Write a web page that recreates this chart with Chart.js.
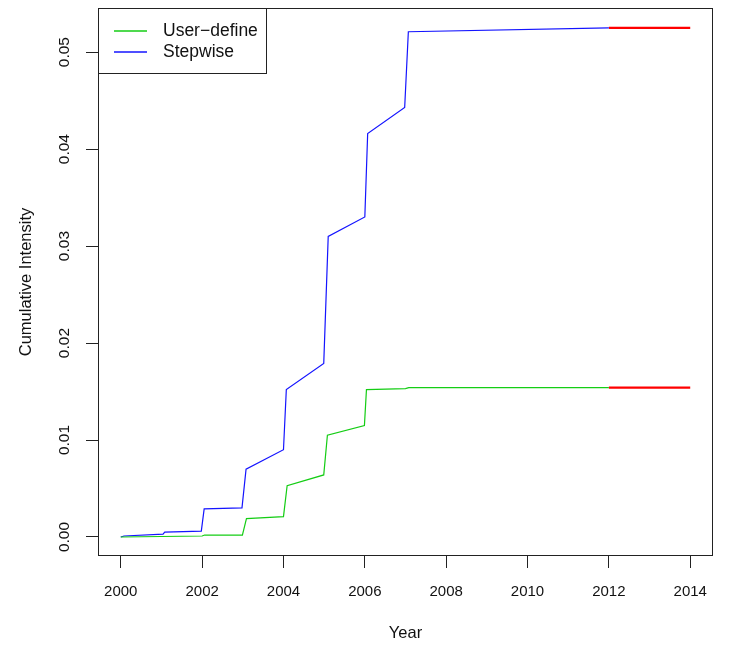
<!DOCTYPE html>
<html>
<head>
<meta charset="utf-8">
<script src="https://cdn.jsdelivr.net/npm/chart.js@4/dist/chart.umd.min.js"></script>
<style>
  html, body { margin: 0; padding: 0; background: #ffffff; }
  #wrap { width: 729px; height: 648px; }
</style>
</head>
<body>
<div id="wrap"><canvas id="c" width="729" height="648"></canvas></div>
<script>
// Cumulative intensity by year for the two model fits
const userDefineYears = [2000.00, 2002.00, 2002.06, 2002.99, 2003.09, 2004.00, 2004.09, 2004.99, 2005.08, 2005.99, 2006.04, 2007.00, 2007.08, 2012.00];
const userDefineValues = [0.0000, 0.0001, 0.0002, 0.0002, 0.0019, 0.0021, 0.0053, 0.0064, 0.0105, 0.0115, 0.0152, 0.0153, 0.0154, 0.0154];

const stepwiseYears = [2000.00, 2000.08, 2001.04, 2001.08, 2001.98, 2002.05, 2002.98, 2003.08, 2004.00, 2004.07, 2004.99, 2005.10, 2006.00, 2006.07, 2006.98, 2007.07, 2012.00];
const stepwiseValues = [0.0000, 0.0001, 0.0003, 0.0005, 0.0006, 0.0029, 0.0030, 0.0070, 0.0090, 0.0152, 0.0179, 0.0310, 0.0330, 0.0416, 0.0443, 0.0521, 0.0525];

// Projection period (drawn in red), held at the last fitted level
const projectionYears = [2012, 2014];
const userDefineProjection = [0.0154, 0.0154];
const stepwiseProjection = [0.0525, 0.0525];

const xTicks = [2000, 2002, 2004, 2006, 2008, 2010, 2012, 2014];
const yTicks = [0.00, 0.01, 0.02, 0.03, 0.04, 0.05];
const yTickLabels = ['0.00', '0.01', '0.02', '0.03', '0.04', '0.05'];

const seriesNames = ['User\u2212define', 'Stepwise'];
const GREEN = 'rgb(20,205,20)';
const BLUE = 'rgb(20,20,255)';
const RED = 'rgb(255,0,0)';
const FONT = '"Liberation Sans", Arial, Helvetica, sans-serif';

function pts(xs, ys) { return xs.map((x, i) => ({ x: x, y: ys[i] })); }

function lineSet(label, xs, ys, color, width) {
  return {
    label: label,
    data: pts(xs, ys),
    showLine: true,
    borderColor: color,
    backgroundColor: color,
    borderWidth: width,
    pointRadius: 0,
    pointHoverRadius: 0,
    tension: 0,
    fill: false
  };
}

// Frame, tick labels, axis titles and legend
const decorations = {
  id: 'decorations',
  afterDraw(chart) {
    const ctx = chart.ctx;
    const a = chart.chartArea;
    const xs = chart.scales.x, ys = chart.scales.y;
    ctx.save();

    // plot frame
    ctx.strokeStyle = '#222';
    ctx.lineWidth = 1;
    ctx.strokeRect(Math.round(a.left) + 0.5, Math.round(a.top) + 0.5,
                   Math.round(a.right - a.left) - 1, Math.round(a.bottom - a.top) - 1);

    ctx.fillStyle = '#111';
    // x tick labels
    ctx.font = '15px ' + FONT;
    ctx.textAlign = 'center';
    ctx.textBaseline = 'middle';
    xTicks.forEach(v => ctx.fillText(String(v), xs.getPixelForValue(v), 592));

    // y tick labels, rotated
    ctx.font = '15.5px ' + FONT;
    yTicks.forEach((v, i) => {
      ctx.save();
      ctx.translate(65, ys.getPixelForValue(v));
      ctx.rotate(-Math.PI / 2);
      ctx.fillText(yTickLabels[i], 0, 0);
      ctx.restore();
    });

    // axis titles
    ctx.font = '16.5px ' + FONT;
    ctx.fillText('Year', (a.left + a.right) / 2, 633);
    ctx.save();
    ctx.translate(26, (a.top + a.bottom) / 2);
    ctx.rotate(-Math.PI / 2);
    ctx.fillText('Cumulative Intensity', 0, 0);
    ctx.restore();

    // legend
    const lx = Math.round(a.left), ly = Math.round(a.top);
    ctx.fillStyle = '#fff';
    ctx.fillRect(lx, ly, 168, 65);
    ctx.strokeStyle = '#222';
    ctx.lineWidth = 1;
    ctx.strokeRect(lx + 0.5, ly + 0.5, 168, 65);
    const colors = [GREEN, BLUE];
    ctx.font = '17.5px ' + FONT;
    ctx.textAlign = 'left';
    seriesNames.forEach((name, i) => {
      const yy = ly + 23 + i * 21;
      ctx.strokeStyle = colors[i];
      ctx.lineWidth = 1.5;
      ctx.beginPath();
      ctx.moveTo(lx + 16, yy);
      ctx.lineTo(lx + 49, yy);
      ctx.stroke();
      ctx.fillStyle = '#111';
      ctx.fillText(name, lx + 65, yy);
    });
    ctx.restore();
  }
};

new Chart(document.getElementById('c'), {
  type: 'scatter',
  data: {
    datasets: [
      lineSet(seriesNames[0], userDefineYears, userDefineValues, GREEN, 1.2),
      lineSet(seriesNames[1], stepwiseYears, stepwiseValues, BLUE, 1.2),
      lineSet('User\u2212define projection', projectionYears, userDefineProjection, RED, 2.2),
      lineSet('Stepwise projection', projectionYears, stepwiseProjection, RED, 2.2)
    ]
  },
  options: {
    responsive: false,
    animation: false,
    devicePixelRatio: 1,
    layout: { padding: { top: 8, right: 16, left: 0, bottom: 0 } },
    plugins: {
      legend: { display: false },
      tooltip: { enabled: false }
    },
    scales: {
      x: {
        type: 'linear',
        min: 1999.44,
        max: 2014.56,
        afterBuildTicks: s => { s.ticks = xTicks.map(v => ({ value: v })); },
        afterFit: s => { s.height = 92; },
        ticks: { display: false },
        grid: { drawOnChartArea: false, drawTicks: true, tickLength: 12, color: '#222', lineWidth: 1 },
        border: { display: false }
      },
      y: {
        type: 'linear',
        min: -0.00196,
        max: 0.05455,
        afterBuildTicks: s => { s.ticks = yTicks.map(v => ({ value: v })); },
        afterFit: s => { s.width = 98; },
        ticks: { display: false },
        grid: { drawOnChartArea: false, drawTicks: true, tickLength: 12, color: '#222', lineWidth: 1 },
        border: { display: false }
      }
    }
  },
  plugins: [decorations]
});
</script>
</body>
</html>
